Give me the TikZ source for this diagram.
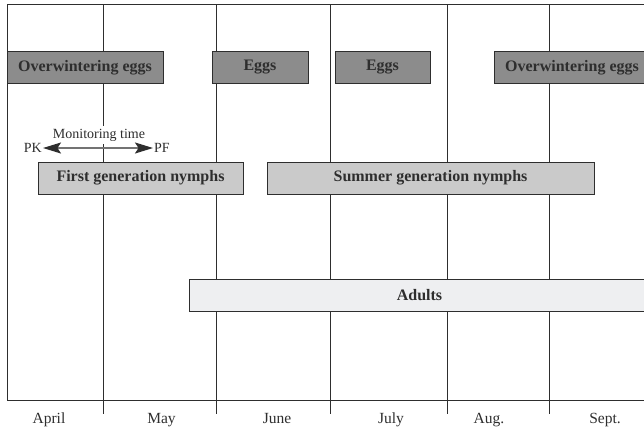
\documentclass[tikz,border=0pt]{standalone}
\usepackage{fontspec}
\setmainfont{Liberation Serif}
\usetikzlibrary{arrows.meta}
\definecolor{egggray}{HTML}{8C8C8C}
\definecolor{nymgray}{HTML}{CACACA}
\definecolor{adugray}{HTML}{EEEFF1}
\definecolor{ink}{HTML}{2E2E2E}
\tikzset{montip/.tip={Stealth[length=18pt,width=11pt,inset=3.5pt,color=ink]}}
\begin{document}
\begin{tikzpicture}[x=1pt,y=-1pt,
  gridline/.style={draw=ink, line width=0.8pt},
  bar/.style={draw=ink, line width=0.8pt, minimum height=32pt, inner sep=0pt,
    font=\fontsize{16}{18}\selectfont\bfseries, text=ink},
  egg/.style={bar, fill=egggray},
  nym/.style={bar, fill=nymgray},
  adu/.style={bar, fill=adugray},
  month/.style={font=\fontsize{15.5}{17}\selectfont, text=ink, anchor=base, inner sep=0pt},
  small/.style={font=\fontsize{14}{16}\selectfont, text=ink, inner sep=1pt}]
\useasboundingbox (0,0) rectangle (644,429);
\clip (0,0) rectangle (644,429);
% frame and month dividers
\draw[gridline] (7,4) -- (650,4);
\draw[gridline] (7,4) -- (7,400);
\draw[gridline] (7,400) -- (650,400);
\foreach \xx in {103,216,330,447,549}
  \draw[gridline] (\xx,4) -- (\xx,414);
% bars
\node[egg, minimum width=156pt] (ow1) at (85,67.5) {Overwintering eggs};
\node[egg, minimum width=96pt] (e1) at (260,67.5) {Eggs};
\node[egg, minimum width=95pt] (e2) at (382.5,67.5) {Eggs};
\node[egg, minimum width=156pt] (ow2) at (572,67.5) {Overwintering eggs};
\node[nym, minimum width=205pt] (fg) at (140.5,178) {First generation nymphs};
\node[nym, minimum width=327pt] (sg) at (430.5,178) {Summer generation nymphs};
\node[adu, minimum width=461pt] (ad) at (419.5,295.5) {Adults};
% monitoring time
\node[small, anchor=east] (pk) at (43,148) {PK};
\node[small, anchor=west] (pf) at (153,148) {PF};
\node[small, fill=white, inner ysep=3pt] (mt) at (99,135) {Monitoring time};
\draw[draw=black!55, line width=1.6pt, montip-montip] (pk.east) -- (pf.west);
% months
\node[month] (apr) at (49,423) {April};
\node[month] (may) at (161.5,423) {May};
\node[month] (jun) at (277,423) {June};
\node[month] (jul) at (391,423) {July};
\node[month] (aug) at (489,423) {Aug.};
\node[month] (sep) at (605,423) {Sept.};
\end{tikzpicture}
\end{document}
